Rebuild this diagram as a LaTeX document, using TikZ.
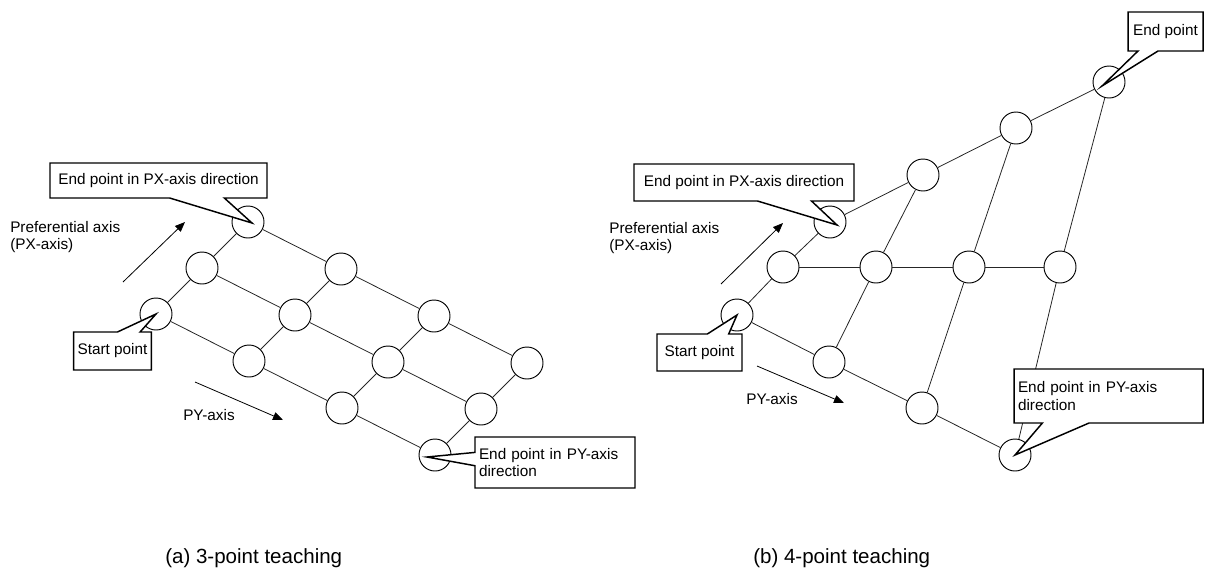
\documentclass[tikz,border=0pt]{standalone}
\usepackage{fontspec}
\setmainfont{Liberation Sans}
\usepackage{tikz}
\usetikzlibrary{arrows.meta, shapes.callouts, calc}
\newcommand\figfont{\fontsize{11.5}{13}\selectfont}
\newcommand\capfont{\fontsize{15.4}{18}\selectfont}
\tikzset{
  waypoint/.style={circle, draw=black, fill=white, line width=0.7pt, minimum size=24pt, inner sep=0pt},
  link/.style={line width=0.6pt, draw=black!85},
  callbox/.style={rectangle callout, draw=black, fill=white, line width=1.1pt, inner xsep=3pt, inner ysep=2pt, align=left, font=\figfont},
  axisarrow/.style={line width=0.6pt, -{Triangle[length=7.5pt, width=6pt]}},
  axislabel/.style={font=\figfont, inner sep=0pt, align=left, anchor=west},
  caption/.style={font=\capfont, inner sep=0pt, anchor=west}
}

\begin{document}
\begin{tikzpicture}[x=0.75pt, y=-0.75pt]
\useasboundingbox (0,0) rectangle (1205,569);
% (a) 3-point teaching - regular grid
\node[waypoint] (a00) at (156,314) {};
\node[waypoint] (a01) at (249,361) {};
\node[waypoint] (a02) at (342,408) {};
\node[waypoint] (a03) at (435,455) {};
\node[waypoint] (a10) at (202,268) {};
\node[waypoint] (a11) at (295,315) {};
\node[waypoint] (a12) at (388,362) {};
\node[waypoint] (a13) at (481,409) {};
\node[waypoint] (a20) at (248,222) {};
\node[waypoint] (a21) at (341,269) {};
\node[waypoint] (a22) at (434,316) {};
\node[waypoint] (a23) at (527,363) {};

\draw[link] (a00) -- (a01) -- (a02) -- (a03);
\draw[link] (a10) -- (a11) -- (a12) -- (a13);
\draw[link] (a20) -- (a21) -- (a22) -- (a23);
\draw[link] (a00) -- (a10) -- (a20);
\draw[link] (a01) -- (a11) -- (a21);
\draw[link] (a02) -- (a12) -- (a22);
\draw[link] (a03) -- (a13) -- (a23);

% axis arrows (a)
\coordinate (pxa-s) at (123,282);
\coordinate (pxa-e) at (185,222);
\coordinate (pya-s) at (195,382);
\coordinate (pya-e) at (283,420);
\draw[axisarrow] (pxa-s) -- (pxa-e);
\draw[axisarrow] (pya-s) -- (pya-e);
\node[axislabel] (pxa-txt) at (10,237) {Preferential axis\\(PX-axis)};
\node[axislabel] (pya-txt) at (183,415) {PY-axis};

% callouts (a)
\node[callbox, minimum width=162.75pt, minimum height=26.25pt, callout absolute pointer={($(a20)+(4,1)$)}, callout pointer width=41pt] (ca-px) at (158.5,180.5) {End point in PX-axis direction};
\node[callbox, minimum width=56.25pt, minimum height=28.5pt, callout absolute pointer={(a00)}, callout pointer width=17pt] (ca-st) at (112.5,351) {Start point};
\node[callbox, text width=114pt, minimum height=38.25pt, callout absolute pointer={($(a03)+(-8,2)$)}, callout pointer width=10pt] (ca-py) at (555,462.5) {End point in PY-axis\\direction};

% (b) 4-point teaching - skewed grid
\node[waypoint] (b00) at (737,315) {};
\node[waypoint] (b01) at (829,362) {};
\node[waypoint] (b02) at (922,408) {};
\node[waypoint] (b03) at (1015,455) {};
\node[waypoint] (b10) at (783,267) {};
\node[waypoint] (b11) at (876,267) {};
\node[waypoint] (b12) at (969,267) {};
\node[waypoint] (b13) at (1060,267) {};
\node[waypoint] (b20) at (830,222) {};
\node[waypoint] (b21) at (923,175) {};
\node[waypoint] (b22) at (1016,128) {};
\node[waypoint] (b23) at (1109,82) {};

\draw[link] (b00) -- (b01) -- (b02) -- (b03);
\draw[link] (b10) -- (b11) -- (b12) -- (b13);
\draw[link] (b20) -- (b21) -- (b22) -- (b23);
\draw[link] (b00) -- (b10) -- (b20);
\draw[link] (b01) -- (b11) -- (b21);
\draw[link] (b02) -- (b12) -- (b22);
\draw[link] (b03) -- (b13) -- (b23);

% axis arrows (b)
\coordinate (pxb-s) at (721,284);
\coordinate (pxb-e) at (783,223);
\coordinate (pyb-s) at (757,366);
\coordinate (pyb-e) at (844,403);
\draw[axisarrow] (pxb-s) -- (pxb-e);
\draw[axisarrow] (pyb-s) -- (pyb-e);
\node[axislabel] (pxb-txt) at (609,238) {Preferential axis\\(PX-axis)};
\node[axislabel] (pyb-txt) at (746,399) {PY-axis};

% callouts (b)
\node[callbox, minimum width=165pt, minimum height=27.75pt, callout absolute pointer={($(b20)+(7,3)$)}, callout pointer width=40.5pt] (cb-px) at (744,182.5) {End point in PX-axis direction};
\node[callbox, minimum width=63.75pt, minimum height=27.75pt, callout absolute pointer={(b00)}, callout pointer width=16pt] (cb-st) at (699.5,352.5) {Start point};
\node[callbox, minimum width=56.25pt, minimum height=29.25pt, callout absolute pointer={($(b23)+(-7,4)$)}, callout pointer width=15pt] (cb-end) at (1165.5,31.5) {End point};
\node[callbox, text width=135.75pt, minimum height=40.5pt, callout absolute pointer={(b03)}, callout pointer width=35pt] (cb-py) at (1108.5,396) {End point in PY-axis\\direction};

% captions
\node[caption] (cap-a) at (165,558) {(a) 3-point teaching};
\node[caption] (cap-b) at (753,558) {(b) 4-point teaching};
\end{tikzpicture}
\end{document}
